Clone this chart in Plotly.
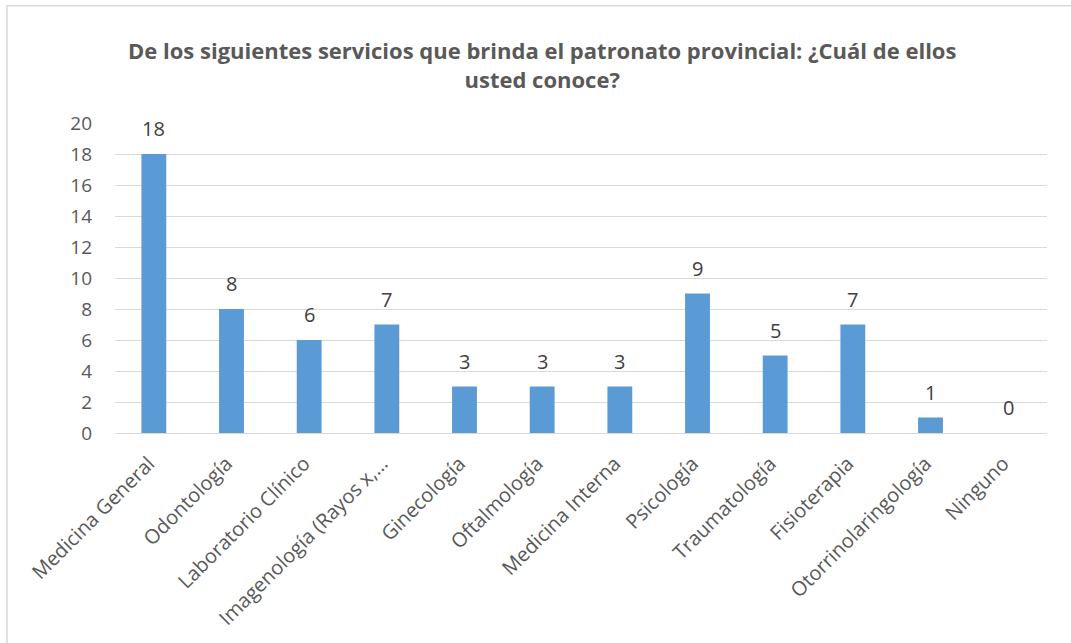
import plotly.graph_objects as go

categories = [
    "Medicina General", "Odontología", "Laboratorio Clínico",
    "Imagenología (Rayos x,…", "Ginecología", "Oftalmología",
    "Medicina Interna", "Psicología", "Traumatología", "Fisioterapia",
    "Otorrinolaringología", "Ninguno",
]
values = [18, 8, 6, 7, 3, 3, 3, 9, 5, 7, 1, 0]
y_ticks = [0, 2, 4, 6, 8, 10, 12, 14, 16, 18, 20]

title_text = ("De los siguientes servicios que brinda el patronato provincial: ¿Cuál de ellos"
              "<br>usted conoce?")

FONT = "Open Sans"
W, H = 1071, 643
L, R, T, B = 115, 24, 123, 208
pw, ph = W - L - R, H - T - B


def px_x(p):
    return (p - L) / pw


def px_y(p):
    return (H - B - p) / ph


fig = go.Figure(
    go.Bar(
        x=categories,
        y=values,
        marker=dict(color="#5B9BD5", line=dict(width=0)),
        cliponaxis=False,
    )
)

# value labels above each bar
value_labels = [
    dict(
        x=c, y=v, xref="x", yref="y",
        text=str(v),
        showarrow=False,
        xanchor="center", yanchor="bottom",
        yshift=10,
        font=dict(family=FONT, size=20, color="#404040"),
    )
    for c, v in zip(categories, values)
]

fig.update_layout(
    width=W,
    height=H,
    margin=dict(l=L, r=R, t=T, b=B),
    paper_bgcolor="white",
    plot_bgcolor="white",
    bargap=0.68,
    showlegend=False,
    font=dict(family=FONT, color="#595959"),
    xaxis=dict(
        tickangle=-45,
        tickfont=dict(family=FONT, size=20, color="#595959"),
        showgrid=False,
        showline=True,
        linecolor="#D9D9D9",
        linewidth=1,
        ticks="",
        ticklabelshift=-5,
        ticklabelstandoff=10,
    ),
    yaxis=dict(
        range=[0, 20],
        tickvals=y_ticks,
        tickfont=dict(family=FONT, size=19, color="#595959"),
        showgrid=True,
        gridcolor="#D9D9D9",
        gridwidth=1,
        zeroline=False,
        showline=False,
        ticks="",
        ticklabelstandoff=22,
    ),
    annotations=value_labels + [
        dict(
            text=title_text,
            xref="paper", yref="paper",
            x=px_x(542), y=px_y(32),
            xanchor="center", yanchor="top",
            showarrow=False,
            align="center",
            font=dict(family=FONT, size=22, color="#595959", weight="bold"),
        )
    ],
    shapes=[
        dict(
            type="rect",
            xref="paper", yref="paper",
            x0=px_x(7), x1=px_x(1080),
            y0=px_y(660), y1=px_y(5),
            line=dict(color="#D9D9D9", width=1.5),
            fillcolor="rgba(0,0,0,0)",
            layer="below",
        )
    ],
)

fig.write_html("out.html")
